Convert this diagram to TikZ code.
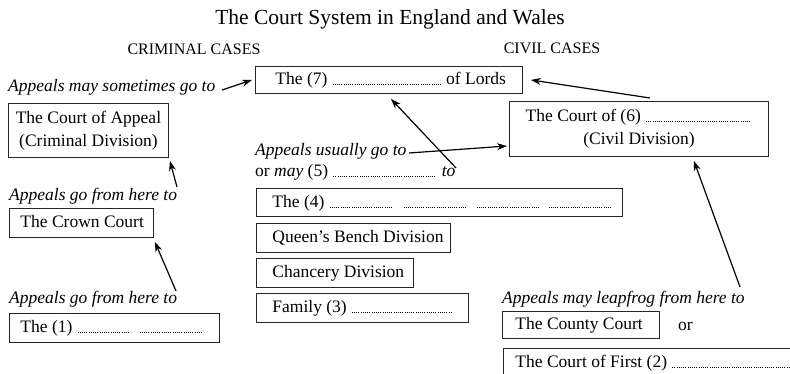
\documentclass[tikz,border=0pt]{standalone}
\usepackage{fontspec}
\setmainfont{Liberation Serif}
\usetikzlibrary{arrows.meta}
\newcommand\dl[1]{\makebox[#1pt]{\leaders\hbox to 2.2pt{\hss\rule{0.8pt}{0.8pt}\hss}\hfill}}
\newcommand\boxline[3]{\makebox[#1pt][l]{\hspace*{#2pt}#3}}
\newcommand\bodyf{\fontsize{17.5}{23}\selectfont}
\begin{document}
\begin{tikzpicture}[x=1pt,y=-1pt,
  bx/.style={draw=black!85, line width=0.9pt, anchor=north west, inner sep=0pt, font=\bodyf},
  one/.style={text height=13pt, text depth=3pt},
  lbl/.style={anchor=base west, inner sep=0pt, font=\bodyf\itshape},
  plain/.style={anchor=base west, inner sep=0pt, font=\bodyf},
  arr/.style={-{Stealth[length=10pt,width=7pt]}, line width=1.2pt},
  ]
\clip (0,0) rectangle (790,374);
\fill[white] (0,0) rectangle (790,374);

% headings
\node[anchor=base, inner sep=0pt, font=\fontsize{21.5}{26}\selectfont] (title) at (390,25) {The Court System in England and Wales};
\node[anchor=base, inner sep=0pt, font=\fontsize{16}{20}\selectfont] (crimhd) at (194,55) {CRIMINAL CASES};
\node[anchor=base, inner sep=0pt, font=\fontsize{16}{20}\selectfont] (civhd) at (552,54) {CIVIL CASES};

% boxes
\node[bx, one, minimum width=267pt, minimum height=27pt] (lords) at (255,66) {\boxline{267}{20}{The (7) \dl{110} of Lords}};
\node[bx, minimum width=160pt, minimum height=54pt, align=center] (cacrim) at (8,103) {The Court of Appeal\\(Criminal Division)};
\node[bx, one, minimum width=144pt, minimum height=29pt] (crown) at (9,208) {\boxline{144}{11}{The Crown Court}};
\node[bx, one, minimum width=210pt, minimum height=29pt] (first1) at (9,313) {\boxline{210}{11}{The (1) \dl{54}\hspace{8pt}\dl{65}}};
\node[bx, one, minimum width=366pt, minimum height=28pt] (four) at (256,188) {\boxline{366}{16}{The (4) \dl{65}\hspace{9pt}\dl{65}\hspace{8pt}\dl{64}\hspace{8pt}\dl{65}}};
\node[bx, one, minimum width=194pt, minimum height=29pt] (qb) at (256,223) {\boxline{194}{16}{Queen’s Bench Division}};
\node[bx, one, minimum width=157pt, minimum height=29pt] (ch) at (256,258) {\boxline{157}{16}{Chancery Division}};
\node[bx, one, minimum width=212pt, minimum height=29pt] (fam) at (256,293) {\boxline{212}{16}{Family (3) \dl{103}}};
\node[bx, minimum width=259pt, minimum height=55pt, align=center] (cacivil) at (509,101) {The Court of (6) \dl{107}\\(Civil Division)};
\node[bx, one, minimum width=157pt, minimum height=27pt] (county) at (502,311) {\boxline{157}{13}{The County Court}};
\node[bx, one, minimum width=300pt, minimum height=29pt] (firstinst) at (503,348) {\boxline{300}{12}{The Court of First (2) \dl{128}}};

% labels
\node[lbl] (sometimes) at (8,92) {Appeals may sometimes go to};
\node[lbl] (gofrom1) at (9,201) {Appeals go from here to};
\node[lbl] (gofrom2) at (9,303) {Appeals go from here to};
\node[lbl] (usually) at (255,156) {Appeals usually go to};
\node[plain] (may) at (255,177) {or \textit{may} (5) \dl{105} \textit{to}};
\node[lbl] (leap) at (502,303) {Appeals may leapfrog from here to};
\node[plain] (or) at (678,330) {or};

% arrow tails
\coordinate (t1) at (222,90);
\coordinate (t2) at (177,187);
\coordinate (t3) at (176,291);
\coordinate (t4) at (409,153);
\coordinate (t5) at (456,168);
\coordinate (t6) at (650,98);
\coordinate (t7) at (740,287);

% arrows
\draw[arr] (t1) -- ([xshift=-3pt]lords.west);
\draw[arr] (t2) -- ([shift={(1,3)}]cacrim.south east);
\draw[arr] (t3) -- ([shift={(1,4)}]crown.south east);
\draw[arr] (t4) -- ([shift={(-2,45)}]cacivil.north west);
\draw[arr] (t5) -- ([shift={(2,5)}]lords.south);
\draw[arr] (t6) -- ([xshift=8pt]lords.east);
\draw[arr] (t7) -- ([shift={(-75,4)}]cacivil.south east);
\end{tikzpicture}
\end{document}
